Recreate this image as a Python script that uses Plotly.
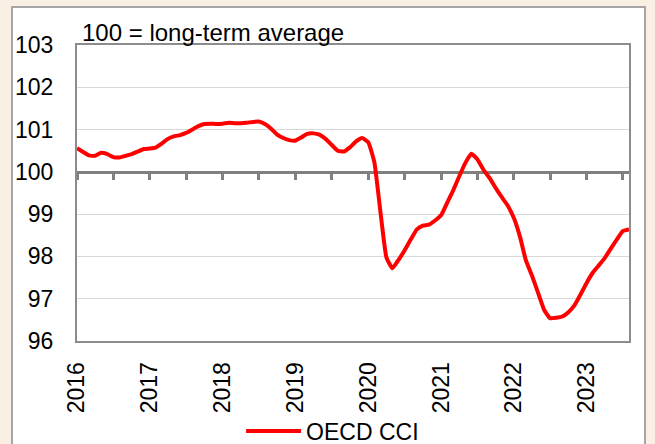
import plotly.graph_objects as go
import pandas as pd

months = pd.date_range("2016-01-01", "2023-08-01", freq="MS").strftime("%Y-%m-%d").tolist()

cci = [
    # 2016
    100.56, 100.47, 100.39, 100.38, 100.45, 100.42, 100.35, 100.34, 100.38, 100.42, 100.48, 100.54,
    # 2017
    100.55, 100.58, 100.67, 100.78, 100.84, 100.87, 100.92, 101.00, 101.08, 101.13, 101.14, 101.13,
    # 2018
    101.14, 101.16, 101.15, 101.15, 101.16, 101.18, 101.19, 101.13, 101.02, 100.88, 100.80, 100.75,
    # 2019
    100.74, 100.82, 100.90, 100.91, 100.88, 100.78, 100.64, 100.50, 100.48, 100.58, 100.72, 100.80,
    # 2020
    100.70, 100.22, 99.10, 97.98, 97.72, 97.92, 98.14, 98.40, 98.64, 98.73, 98.75, 98.85,
    # 2021
    98.98, 99.28, 99.55, 99.89, 100.20, 100.43, 100.30, 100.05, 99.85, 99.62, 99.40, 99.20,
    # 2022
    98.90, 98.45, 97.92, 97.55, 97.15, 96.74, 96.54, 96.55, 96.58, 96.68, 96.85, 97.10,
    # 2023
    97.38, 97.62, 97.78, 97.96, 98.18, 98.40, 98.60, 98.64,
]

year_ticks = ["2016-01-01", "2017-01-01", "2018-01-01", "2019-01-01",
              "2020-01-01", "2021-01-01", "2022-01-01", "2023-01-01"]
year_labels = ["2016", "2017", "2018", "2019", "2020", "2021", "2022", "2023"]
y_ticks = [96, 97, 98, 99, 100, 101, 102, 103]
reference_level = 100
title_text = "100 = long-term average"
series_name = "OECD CCI"

FONT = "Liberation Sans, Arial, sans-serif"
FS = 23
x_range = [months[0], months[-1]]
y_range = [96, 103]

fig = go.Figure()
fig.add_trace(go.Scatter(
    x=months, y=cci, mode="lines", name=series_name,
    line=dict(color="#FF0000", width=4, shape="spline", smoothing=0.4),
))
# invisible trace to carry the reference-line axis
fig.add_trace(go.Scatter(
    x=x_range, y=[reference_level, reference_level], xaxis="x2", mode="lines",
    line=dict(color="rgba(0,0,0,0)", width=0), showlegend=False, hoverinfo="skip",
))

L, R, T, B = 77, 26, 45, 103
W, H = 655, 444
pw, ph = W - L - R, H - T - B
bottom_px = H - B


def py(p):
    return (bottom_px - p) / ph


def px(p):
    return (p - L) / pw


fig.update_layout(
    width=W, height=H,
    margin=dict(l=L, r=R, t=T, b=B, autoexpand=False),
    paper_bgcolor="#F9EFE5",
    plot_bgcolor="#FFFFFF",
    font=dict(family=FONT, size=FS, color="#000000"),
    showlegend=True,
    legend=dict(orientation="h", x=0.463, xanchor="center", y=py(431), yanchor="middle",
                bgcolor="rgba(0,0,0,0)", font=dict(size=FS), itemwidth=55),
    xaxis=dict(
        type="date", range=x_range, tickmode="array", tickvals=year_ticks, ticktext=year_labels,
        tickangle=-90, showgrid=False, zeroline=False, showline=True, linecolor="#8C8C8C",
        linewidth=2, mirror=True, ticks="", ticklabelstandoff=10, automargin=False,
    ),
    xaxis2=dict(
        type="date", range=x_range, overlaying="x", anchor="free",
        position=(reference_level - y_range[0]) / (y_range[1] - y_range[0]),
        side="bottom", showline=True, linecolor="#808080", linewidth=3,
        ticks="outside", ticklen=6, tickwidth=3, tickcolor="#808080",
        dtick="M6", tick0=months[0], showticklabels=False, showgrid=False,
        zeroline=False, layer="below traces", automargin=False,
    ),
    yaxis=dict(
        range=y_range, tickmode="array", tickvals=y_ticks,
        showgrid=True, gridcolor="#D9D9D9", gridwidth=1, zeroline=False,
        showline=True, linecolor="#8C8C8C", linewidth=2, mirror=True,
        ticks="", ticklabelstandoff=17, automargin=False,
    ),
    shapes=[dict(
        type="rect", xref="paper", yref="paper", layer="below",
        x0=px(12), x1=px(645), y0=py(470), y1=py(7),
        fillcolor="#FFFFFF", line=dict(color="#A6A6A6", width=2),
    )],
    annotations=[dict(
        text=title_text, xref="paper", yref="paper", x=px(80), y=1,
        xanchor="left", yanchor="bottom", showarrow=False, yshift=-3,
        font=dict(size=24, family=FONT),
    )],
)

fig.write_html(
    "out.html",
    config={"displayModeBar": False},
    post_script="document.body.style.margin='0';document.body.style.padding='0';",
)
